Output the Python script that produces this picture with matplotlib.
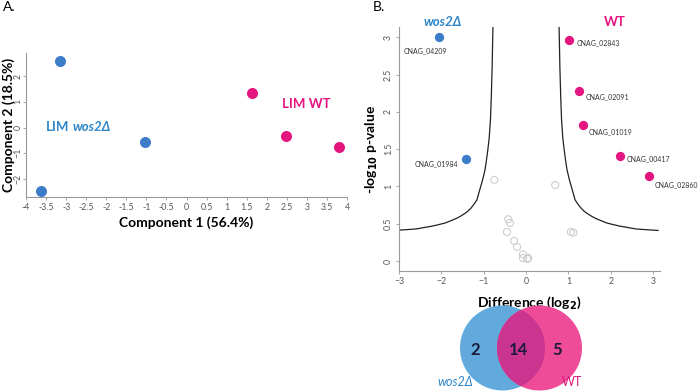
import numpy as np
import matplotlib.pyplot as plt
from matplotlib.patches import Circle

plt.rcParams['font.family'] = ['Lato', 'DejaVu Sans']

W, H = 699, 391

# PCA scores
pca_mut_x = [-3.15, -1.04, -3.63]
pca_mut_y = [2.60, -0.58, -2.45]
pca_wt_x = [1.64, 2.48, 3.80]
pca_wt_y = [1.36, -0.31, -0.74]

# volcano plot
sig_mut_x = [-2.05, -1.42]
sig_mut_y = [3.01, 1.37]
sig_mut_names = ["CNAG_04209", "CNAG_01984"]
sig_wt_x = [1.02, 1.26, 1.35, 2.22, 2.91]
sig_wt_y = [2.97, 2.28, 1.83, 1.41, 1.14]
sig_wt_names = ["CNAG_02843", "CNAG_02091", "CNAG_01019", "CNAG_00417", "CNAG_02860"]
ns_x = [-0.75, 0.69, -0.42, -0.38, -0.45, -0.28, -0.21, -0.07, -0.07, 0.03, 0.05, 1.06, 1.12]
ns_y = [1.09, 1.02, 0.56, 0.51, 0.39, 0.27, 0.19, 0.09, 0.04, 0.03, 0.04, 0.39, 0.38]

# significance threshold curve (right branch, mirrored for the left)
curve_x = [0.78, 0.79, 0.80, 0.82, 0.84, 0.87, 0.90, 0.94, 0.97, 1.02, 1.07, 1.12, 1.16,
           1.23, 1.30, 1.37, 1.44, 1.55, 1.65, 1.78, 1.91, 2.05, 2.20, 2.40, 2.60, 2.85, 3.12]
curve_y = [3.17, 2.90, 2.60, 2.20, 1.89, 1.65, 1.50, 1.33, 1.22, 1.10, 1.00, 0.90, 0.82,
           0.76, 0.71, 0.67, 0.64, 0.60, 0.57, 0.54, 0.51, 0.49, 0.47, 0.45, 0.43, 0.42, 0.41]

# Venn counts
venn_counts = [2, 14, 5]
venn_labels = ["wos2Δ", "WT"]

blue = '#3D7CC9'
pink = '#E5157F'
txt_blue = '#2E86C8'
grey_tick = '#555555'


def px_axes(fig, left, top, right, bottom):
    return fig.add_axes([left / W, 1 - bottom / H, (right - left) / W, (bottom - top) / H])


def style_axes(ax, ypad=2):
    for s in ['top', 'right']:
        ax.spines[s].set_visible(False)
    for s in ['left', 'bottom']:
        ax.spines[s].set_color('#999999')
        ax.spines[s].set_linewidth(0.8)
    ax.tick_params(colors='#999999', labelcolor=grey_tick, labelsize=6.3, length=2.5, width=0.6, pad=2)
    ax.tick_params(axis='y', pad=ypad)
    for lab in ax.get_yticklabels():
        lab.set_rotation(90)
        lab.set_va('center')


fig = plt.figure(figsize=(W / 100, H / 100), dpi=100)

# ---- panel A ----
axA = px_axes(fig, 26, 53, 347, 197)
axA.scatter(pca_mut_x, pca_mut_y, s=48, color=blue, zorder=3)
axA.scatter(pca_wt_x, pca_wt_y, s=48, color=pink, zorder=3)
axA.set_xlim(-4, 4)
axA.set_ylim(-2.7, 2.9)
xt = np.arange(-4, 4.01, 0.5)
axA.set_xticks(xt)
axA.set_xticklabels([f"{v:g}" for v in xt])
axA.set_yticks([-2, -1, 0, 1, 2])
style_axes(axA, ypad=0.5)
axA.tick_params(axis='y', length=2)
axA.set_xlabel("Component 1 (56.4%)", fontsize=10, fontweight='bold', labelpad=3)
axA.set_ylabel("Component 2 (18.5%)", fontsize=10, fontweight='bold')
axA.yaxis.set_label_coords(-11 / 321, 0.5)
t1 = axA.text(-3.5, 0.04, "LIM", color=txt_blue, fontsize=9.5, fontweight='bold', ha='left', va='center')
axA.annotate("wos2Δ", xy=(1, 0.5), xycoords=t1, xytext=(3, 0), textcoords='offset pixels',
             color=txt_blue, fontsize=9.5, fontweight='bold', style='italic', ha='left', va='center')
axA.text(2.38, 0.93, "LIM WT", color=pink, fontsize=9.5, fontweight='bold', ha='left', va='center')
fig.text(3 / W, 1 - 7 / H, "A.", fontsize=10, va='center', ha='left')

# ---- panel B ----
axB = px_axes(fig, 399, 27, 660, 271)
cx = np.array(curve_x)
cy = np.array(curve_y)
axB.plot(cx, cy, color='#222222', lw=0.9)
axB.plot(-cx, cy, color='#222222', lw=0.9)
axB.scatter(ns_x, ns_y, s=26, facecolors='none', edgecolors='#C8C8C8', linewidths=0.7, zorder=2)
axB.scatter(sig_mut_x, sig_mut_y, s=32, color=blue, zorder=3)
axB.scatter(sig_wt_x, sig_wt_y, s=32, color=pink, zorder=3)

mut_offsets = [(-14, -14, 'center'), (-8, -5, 'right')]
for x, y, name, (dx, dy, ha) in zip(sig_mut_x, sig_mut_y, sig_mut_names, mut_offsets):
    axB.annotate(name, (x, y), xytext=(dx, dy), textcoords='offset pixels', fontsize=5,
                 color='#333333', ha=ha, va='center')
wt_offsets = [(7, -3), (6, -6), (5, -7), (7, -3), (5, -9)]
for x, y, name, (dx, dy) in zip(sig_wt_x, sig_wt_y, sig_wt_names, wt_offsets):
    axB.annotate(name, (x, y), xytext=(dx, dy), textcoords='offset pixels', fontsize=5,
                 color='#333333', ha='left', va='center', annotation_clip=False)

axB.set_xlim(-3, 3.165)
axB.set_ylim(-0.134, 3.14)
axB.set_xticks([-3, -2, -1, 0, 1, 2, 3])
axB.set_yticks([0, 0.5, 1, 1.5, 2, 2.5, 3])
axB.set_yticklabels(["0", "0.5", "1", "1.5", "2", "2.5", "3"])
style_axes(axB)
axB.set_xlabel("Difference (log$_\\mathbf{2}$)", fontsize=10, fontweight='bold', labelpad=6)
axB.set_ylabel("-log$_\\mathbf{10}$ p-value", fontsize=10, fontweight='bold', labelpad=3)
fig.text(443 / W, 1 - 22 / H, "wos2Δ", color=txt_blue, fontsize=9.5, fontweight='bold',
         style='italic', ha='center', va='center')
fig.text(615 / W, 1 - 22 / H, "WT", color=pink, fontsize=9.5, fontweight='bold',
         ha='center', va='center')
fig.text(373 / W, 1 - 7 / H, "B.", fontsize=10, va='center', ha='left')

# ---- Venn ----
axV = px_axes(fig, 440, 300, 600, 391)
axV.set_xlim(0, 160)
axV.set_ylim(0, 91)
axV.axis('off')
left_c = Circle((62.5, 43), 42.5, color='#62AADC', lw=0)
right_c = Circle((99.5, 43), 42.5, color='#EE4B98', lw=0)
axV.add_patch(left_c)
axV.add_patch(right_c)
mid = Circle((99.5, 43), 42.5, color='#CB3590', lw=0)
axV.add_patch(mid)
mid.set_clip_path(left_c)
for xv, n in zip([35, 78, 117], venn_counts):
    axV.text(xv, 41, str(n), fontsize=12, fontweight='bold', color='#1a1a3a', ha='center', va='center')
axV.text(15, 9, venn_labels[0], fontsize=9, style='italic', color=txt_blue, ha='center', va='center')
axV.text(132, 9, venn_labels[1], fontsize=9, color='#D81B7F', ha='center', va='center')

fig.savefig('out.png', dpi=100)
